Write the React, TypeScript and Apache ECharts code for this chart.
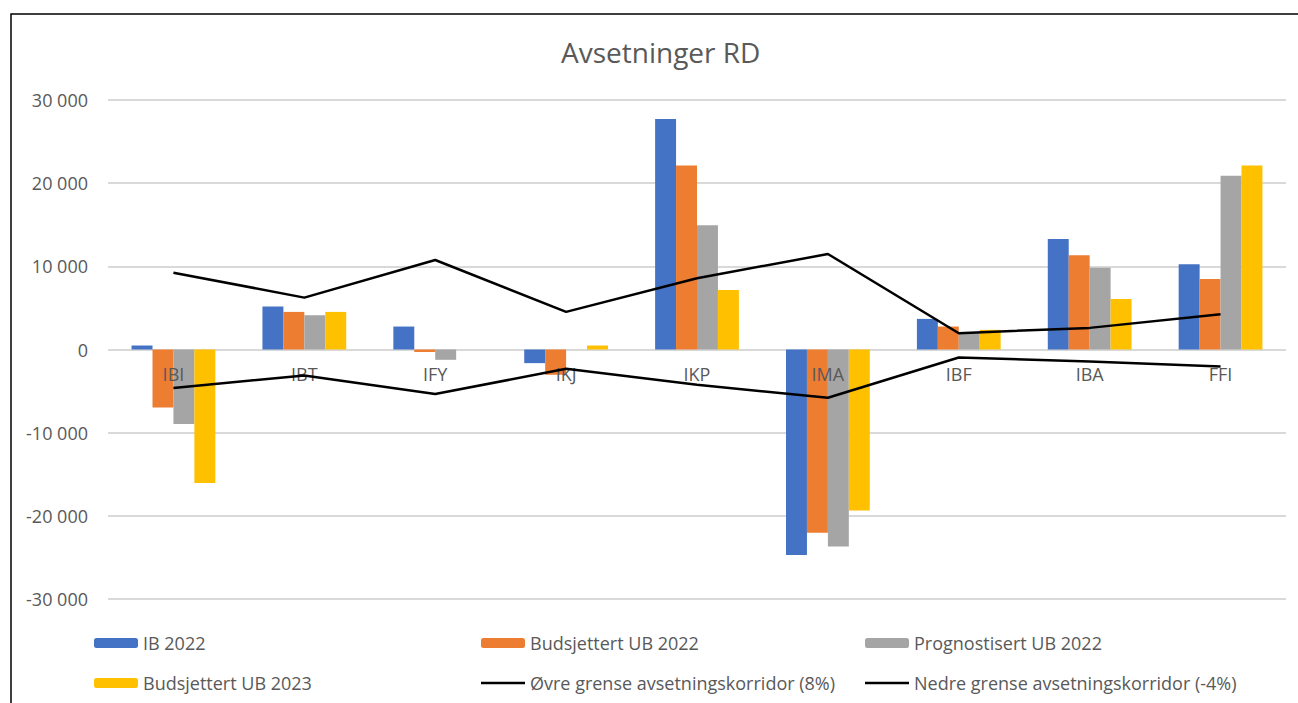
import React, { useEffect, useRef } from "react";
import * as echarts from "echarts";

const categories = ["IBI", "IBT", "IFY", "IKJ", "IKP", "IMA", "IBF", "IBA", "FFI"];
const ib2022 = [480, 5160, 2760, -1640, 27720, -24720, 3680, 13280, 10240];
const budUb2022 = [-6960, 4520, -300, -3040, 22120, -22040, 2760, 11320, 8480];
const progUb2022 = [-8960, 4120, -1240, 0, 14930, -23680, 2000, 9840, 20880];
const budUb2023 = [-16040, 4520, 0, 480, 7160, -19360, 2360, 6080, 22120];
const upperCorridor = [9240, 6240, 10760, 4520, 8570, 11480, 1960, 2600, 4240];
const lowerCorridor = [-4640, -3120, -5360, -2320, -4240, -5800, -960, -1440, -2040];
const yTicks = [-30000, -20000, -10000, 0, 10000, 20000, 30000];

const FONT = "Open Sans";
const GREY_TEXT = "#595959";
const LINE_ICON = "path://M0,0H44V2.5H0Z";

function fmt(v: number): string {
  const s = Math.abs(v).toString().replace(/\B(?=(\d{3})+(?!\d))/g, " ");
  return (v < 0 ? "-" : "") + s;
}

export default function App() {
  const ref = useRef<HTMLDivElement>(null);
  useEffect(() => {
    document.body.style.margin = "0";
    const chart = echarts.init(ref.current!, null, { renderer: "svg" });
    const barSeries = (name: string, data: number[], color: string) => ({
      name,
      type: "bar",
      data,
      barGap: "0%",
      barCategoryGap: "36%",
      itemStyle: { color },
      z: 2,
    });
    const lineSeries = (name: string, data: number[]) => ({
      name,
      type: "line",
      data,
      symbol: "none",
      lineStyle: { color: "#000000", width: 2.5 },
      itemStyle: { color: "#000000" },
      z: 4,
    });
    const legendBase = {
      orient: "vertical",
      itemWidth: 44,
      itemHeight: 10,
      itemGap: 22,
      textStyle: { fontFamily: FONT, fontSize: 18, color: GREY_TEXT },
      selectedMode: false,
      top: 629,
    };
    const topGrid = 100;
    const bottomGrid = 599;
    chart.setOption({
      animation: false,
      title: {
        text: "Avsetninger RD",
        left: 556,
        top: 33,
        textStyle: { fontFamily: FONT, fontSize: 28, fontWeight: "normal", color: GREY_TEXT },
      },
      grid: { left: 108, right: 12, top: topGrid, bottom: 703 - bottomGrid, containLabel: false },
      legend: [
        { ...legendBase, left: 89, data: ["IB 2022", "Budsjettert UB 2023"] },
        {
          ...legendBase,
          left: 476,
          data: ["Budsjettert UB 2022", { name: "Øvre grense avsetningskorridor (8%)", icon: LINE_ICON }],
        },
        {
          ...legendBase,
          left: 860,
          data: ["Prognostisert UB 2022", { name: "Nedre grense avsetningskorridor (-4%)", icon: LINE_ICON }],
        },
      ],
      xAxis: {
        type: "category",
        data: categories,
        position: "bottom",
        offset: -(bottomGrid - topGrid) / 2,
        axisLine: { show: false },
        axisTick: { show: false },
        axisLabel: { fontFamily: FONT, fontSize: 18, color: GREY_TEXT, margin: 15 },
        z: 3,
      },
      yAxis: {
        type: "value",
        min: yTicks[0],
        max: yTicks[yTicks.length - 1],
        interval: 10000,
        axisLine: { show: false },
        axisTick: { show: false },
        axisLabel: {
          fontFamily: FONT,
          fontSize: 18,
          color: GREY_TEXT,
          margin: 20,
          formatter: (v: number) => fmt(v),
        },
        splitLine: { lineStyle: { color: "#d9d9d9", width: 2 } },
        z: 0,
      },
      graphic: [
        {
          type: "rect",
          shape: { x: 11, y: 14, width: 1400, height: 800 },
          style: { fill: "none", stroke: "#000000", lineWidth: 1.5 },
          silent: true,
        },
      ],
      series: [
        barSeries("IB 2022", ib2022, "#4472C4"),
        barSeries("Budsjettert UB 2022", budUb2022, "#ED7D31"),
        barSeries("Prognostisert UB 2022", progUb2022, "#A5A5A5"),
        barSeries("Budsjettert UB 2023", budUb2023, "#FFC000"),
        lineSeries("Øvre grense avsetningskorridor (8%)", upperCorridor),
        lineSeries("Nedre grense avsetningskorridor (-4%)", lowerCorridor),
      ],
    });
    return () => chart.dispose();
  }, []);
  return <div ref={ref} style={{ width: 1298, height: 703 }} />;
}
